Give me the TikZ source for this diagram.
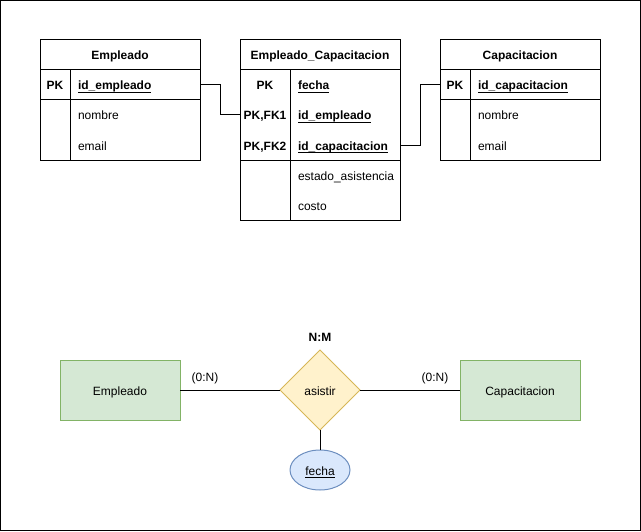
\documentclass[tikz,border=0pt]{standalone}
\usepackage{fontspec}
\setmainfont{Liberation Sans}
\usetikzlibrary{shapes.geometric}
\definecolor{gfill}{HTML}{D5E8D4}
\definecolor{gline}{HTML}{82B366}
\definecolor{yfill}{HTML}{FFF2CC}
\definecolor{yline}{HTML}{D6B656}
\definecolor{bfill}{HTML}{DAE8FC}
\definecolor{bline}{HTML}{6C8EBF}
\newcommand{\myul}[1]{\setbox0\hbox{#1}\rlap{\rule[-2.4pt]{\wd0}{0.7pt}}\box0}
\begin{document}
\begin{tikzpicture}[x=0.75pt,y=-0.75pt,
  every node/.style={font=\fontsize{9pt}{11pt}\selectfont, inner sep=0pt, outer sep=0pt, text height=8pt, text depth=0.5pt},
  every path/.style={line width=0.75pt},
  hdr/.style={font=\fontsize{9pt}{11pt}\selectfont\bfseries},
  keycell/.style={font=\fontsize{9pt}{11pt}\selectfont\bfseries},
  field/.style={anchor=west},
  keyfield/.style={anchor=west, font=\fontsize{9pt}{11pt}\selectfont\bfseries},
  row/.style={minimum width=120pt, minimum height=22.5pt},
  ent/.style={draw=gline, fill=gfill, minimum width=90pt, minimum height=45pt},
  rel/.style={diamond, draw=yline, fill=yfill, minimum width=60pt, minimum height=60pt},
  attr/.style={ellipse, draw=bline, fill=bfill, minimum width=45pt, minimum height=30pt},
  lbl/.style={}
]
\useasboundingbox (0,0) rectangle (641,531);
\draw (0.5,0.5) rectangle (640.5,530.5);

% Empleado table
\draw (40,40) rectangle (200,160);
\draw (40,70) -- (200,70);
\draw (40,100) -- (200,100);
\draw (70,70) -- (70,160);
\node[hdr] (e_h) at (120,55) {Empleado};
\node[row] (e_pk) at (120,85) {};
\node[keycell] (e_k1) at (55,85) {PK};
\node[keyfield] (e_f1) at (78,85) {\myul{id\_empleado}};
\node[field] (e_f2) at (78,115) {nombre};
\node[field] (e_f3) at (78,145) {email};

% Empleado_Capacitacion table
\draw (240,40) rectangle (400,220);
\draw (240,70) -- (400,70);
\draw (240,160) -- (400,160);
\draw (290,70) -- (290,220);
\node[hdr] (ec_h) at (320,55) {Empleado\_Capacitacion};
\node[row] (ec_r1) at (320,85) {};
\node[row] (ec_r2) at (320,115) {};
\node[row] (ec_r3) at (320,145) {};
\node[keycell] (ec_k1) at (265,85) {PK};
\node[keycell] (ec_k2) at (265,115) {PK,FK1};
\node[keycell] (ec_k3) at (265,145) {PK,FK2};
\node[keyfield] (ec_f1) at (298,85) {\myul{fecha}};
\node[keyfield] (ec_f2) at (298,115) {\myul{id\_empleado}};
\node[keyfield] (ec_f3) at (298,145) {\myul{id\_capacitacion}};
\node[field] (ec_f4) at (298,175) {estado\_asistencia};
\node[field] (ec_f5) at (298,205) {costo};

% Capacitacion table
\draw (440,40) rectangle (600,160);
\draw (440,70) -- (600,70);
\draw (440,100) -- (600,100);
\draw (470,70) -- (470,160);
\node[hdr] (c_h) at (520,55) {Capacitacion};
\node[row] (c_pk) at (520,85) {};
\node[keycell] (c_k1) at (455,85) {PK};
\node[keyfield] (c_f1) at (478,85) {\myul{id\_capacitacion}};
\node[field] (c_f2) at (478,115) {nombre};
\node[field] (c_f3) at (478,145) {email};

% relationships between tables
\draw (e_pk.east) -- ++(20,0) |- (ec_r2.west);
\draw (ec_r3.east) -- ++(20,0) |- (c_pk.west);

% ER diagram
\node[ent] (be) at (120,390) {Empleado};
\node[ent] (bc) at (520,390) {Capacitacion};
\node[rel] (ba) at (320,390) {asistir};
\node[attr] (bf) at (320,470) {\myul{fecha}};
\draw (be) -- (ba);
\draw (ba) -- (bc);
\draw (ba) -- (bf);
\node[hdr] (lnm) at (320,336) {N:M};
\node[lbl] (l1) at (205,376) {(0:N)};
\node[lbl] (l2) at (435,376) {(0:N)};
\end{tikzpicture}
\end{document}
